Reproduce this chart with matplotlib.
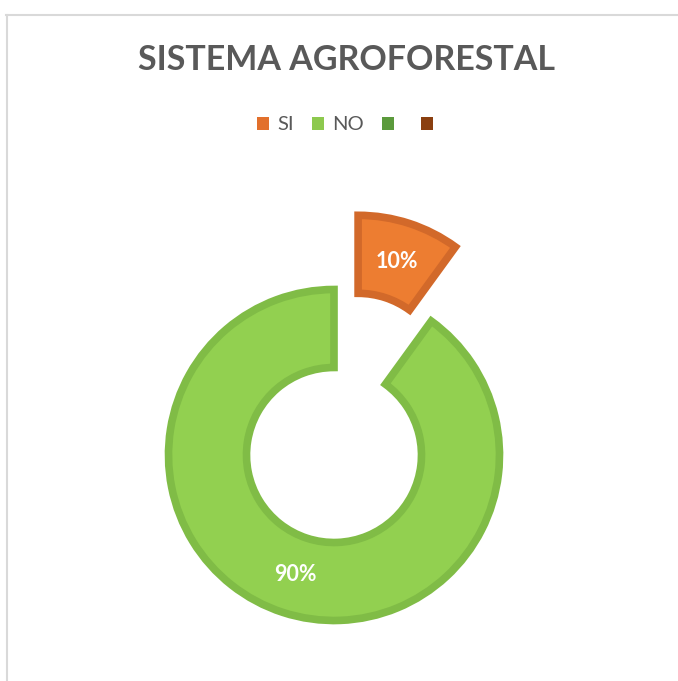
import matplotlib
matplotlib.use('Agg')
import matplotlib.pyplot as plt
from matplotlib.patches import Patch
from matplotlib.lines import Line2D

# Donut chart "SISTEMA AGROFORESTAL" with the SI slice pulled out

plt.rcParams['font.family'] = ['Lato', 'DejaVu Sans']

title = 'SISTEMA AGROFORESTAL'
categories = ['SI', 'NO']
values = [10, 90]
legend_labels = ['SI', 'NO', '', '']

fill_colors = ['#ED7D31', '#92D050']
edge_colors = ['#D2692A', '#80BC46']
legend_colors = ['#E2702C', '#8DC94E', '#5B9A3C', '#8A3F10']

W, H = 678, 681
fig = plt.figure(figsize=(W / 100, H / 100), dpi=100)
ax = fig.add_axes([0, 0, 1, 1])
ax.set_xlim(0, W)
ax.set_ylim(0, H)
ax.set_aspect('equal')
ax.axis('off')

R = 165.5
cx, cy = 334, H - 455
wedges, texts, pcts = ax.pie(
    values, startangle=90, counterclock=False, radius=R, center=(cx, cy),
    explode=[78, 0], colors=fill_colors, autopct='%1.0f%%', pctdistance=0.76,
    wedgeprops=dict(width=78, linewidth=5.5, joinstyle='miter'),
    textprops=dict(color='white', fontsize=15.5, fontweight='bold'))
for w, ec in zip(wedges, edge_colors):
    w.set_edgecolor(ec)

ax.set_xlim(0, W)
ax.set_ylim(0, H)

fig.text(346 / W, 1 - 60 / H, title, ha='center', va='center',
         fontsize=24.5, fontweight='bold', color='#595959')

handles = [Patch(facecolor=c, edgecolor='none') for c in legend_colors]
fig.legend(handles, legend_labels, loc='center', bbox_to_anchor=(349 / W, 1 - 125 / H),
           ncol=4, frameon=False, fontsize=14.5, labelcolor='#595959',
           handlelength=0.6, handleheight=0.6, handletextpad=0.4,
           columnspacing=0.9)

# chart area frame (top and left edges visible)
fig.add_artist(Line2D([6 / W, 1], [1 - 15 / H, 1 - 15 / H], color='#D9D9D9', lw=1.5))
fig.add_artist(Line2D([6.5 / W, 6.5 / W], [0, 1 - 15 / H], color='#D9D9D9', lw=1.5))

fig.savefig('out.png', dpi=100)
